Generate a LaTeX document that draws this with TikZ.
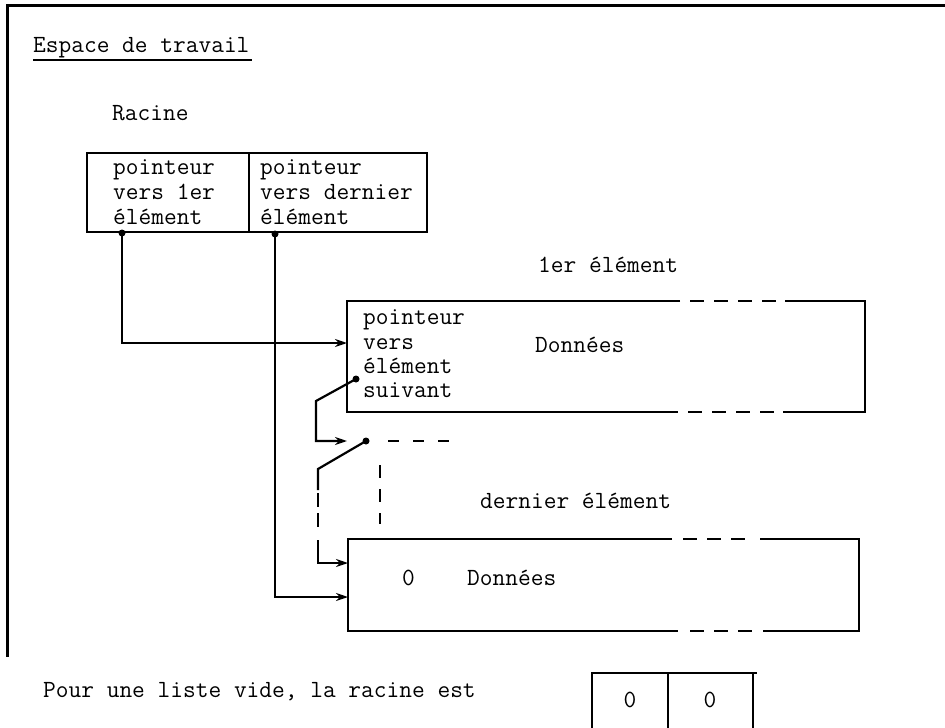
\documentclass[tikz,border=0pt]{standalone}
\usepackage{fontspec}
\usetikzlibrary{arrows.meta,calc}
\begin{document}
\begin{tikzpicture}[x=1pt,y=-1pt,
  txt/.style={font=\fontsize{24.7}{26}\ttfamily\addfontfeatures{FakeBold=0.5}, inner sep=0pt, anchor=base west},
  box/.style={draw, line width=2.5pt, inner sep=0pt},
  edge/.style={line width=2.5pt},
  wire/.style={line width=2.2pt},
  arr/.style={wire, -{Stealth[length=12pt,width=8pt]}},
  dashedge/.style={line width=2.5pt, dash pattern=on 14pt off 10pt},
  ptr/.style={circle, fill, inner sep=0pt, minimum size=7pt}]
\useasboundingbox (0,0) rectangle (945,728);
% frame
\coordinate (fr0) at (7,5);
\coordinate (fr1) at (945,5);
\coordinate (fr2) at (7,657);
\draw[line width=3pt] (fr1) -- (fr0) -- (fr2);
% title
\node[txt] (title) at (33,52) {Espace de travail};
\draw[line width=2pt] ($(title.base west)+(0,8)$) -- ($(title.base east)+(2,8)$);
\node[txt] (racine) at (112,120) {Racine};
% root
\node[box, minimum width=162pt, minimum height=79pt] (rootL) at (168,192.5) {};
\node[box, minimum width=178pt, minimum height=79pt] (rootR) at (338,192.5) {};
\node[txt] (rL1) at (113,174) {pointeur};
\node[txt] (rL2) at (113,199) {vers 1er};
\node[txt] (rL3) at (113,224) {élément};
\node[txt] (rR1) at (260,174) {pointeur};
\node[txt] (rR2) at (260,199) {vers dernier};
\node[txt] (rR3) at (260,224) {élément};
\node[ptr] (d1) at (122,233) {};
\node[ptr] (d2) at (275,234) {};
% first element
\node[txt] (lab1) at (538,272) {1er élément};
\coordinate (e1a) at (347,301);
\coordinate (e1b) at (865,301);
\coordinate (e1c) at (865,412);
\coordinate (e1d) at (347,412);
\draw[edge] (680,301) -- (e1a) -- (e1d) -- (678,412);
\draw[edge] (785,301) -- (e1b) -- (e1c) -- (783,412);
\draw[dashedge] (690,301) -- (776,301);
\draw[dashedge] (688,412) -- (774,412);
\node[txt] (e1t1) at (363,324) {pointeur};
\node[txt] (e1t2) at (363,349) {vers};
\node[txt] (e1t3) at (363,373) {élément};
\node[txt] (e1t4) at (363,397) {suivant};
\node[txt] (e1d1) at (535,352) {Données};
% last element
\node[txt] (lab2) at (480,508) {dernier élément};
\coordinate (e2a) at (348,539);
\coordinate (e2b) at (859,539);
\coordinate (e2c) at (859,631);
\coordinate (e2d) at (348,631);
\draw[edge] (672,539) -- (e2a) -- (e2d) -- (678,631);
\draw[edge] (760,539) -- (e2b) -- (e2c) -- (763,631);
\draw[dashedge] (683,539) -- (750,539);
\draw[dashedge] (690,631) -- (758,631);
\node[txt] (e2z) at (402,585) {0};
\node[txt] (e2d1) at (467,585) {Données};
% pointers from root
\coordinate (e1in) at (347,343);
\coordinate (e2in) at (348,597);
\draw[arr] (d1.center) |- (e1in);
\draw[arr] (d2.center) |- (e2in);
% next pointer of first element
\node[ptr] (s1) at (356,379) {};
\coordinate (k1) at (316,401);
\coordinate (m1) at (347,441);
\draw[arr] (s1.center) -- (k1) |- (m1);
% intermediate elements (elided)
\node[ptr] (m2) at (366,441) {};
\coordinate (h1) at (388,441);
\coordinate (h2) at (452,441);
\draw[wire, dash pattern=on 11pt off 14pt] (h1) -- (h2);
\coordinate (v1) at (380,465);
\coordinate (v2) at (380,524);
\draw[wire, dash pattern=on 13pt off 11pt] (v1) -- (v2);
\coordinate (k2) at (318,469);
\coordinate (k3) at (318,490);
\coordinate (k4) at (318,493);
\coordinate (k5) at (318,530);
\coordinate (k6) at (318,540);
\coordinate (e2in2) at (348,563);
\draw[wire] (m2.center) -- (k2) -- (k3);
\draw[wire, dash pattern=on 14pt off 6pt] (k4) -- (k5);
\draw[arr] (k6) |- (e2in2);
% empty list
\node[txt] (vide) at (43,697) {Pour une liste vide, la racine est};
\coordinate (z0) at (592,673);
\coordinate (z1) at (668,673);
\coordinate (z2) at (753,673);
\coordinate (z3) at (757,673);
\draw[edge] (592,728) -- (z0) -- (z3);
\draw[edge] (z1) -- (668,728);
\draw[edge] (z2) -- (753,728);
\node[txt, anchor=base] (zL) at (630,707) {0};
\node[txt, anchor=base] (zR) at (710,707) {0};
\end{tikzpicture}
\end{document}
